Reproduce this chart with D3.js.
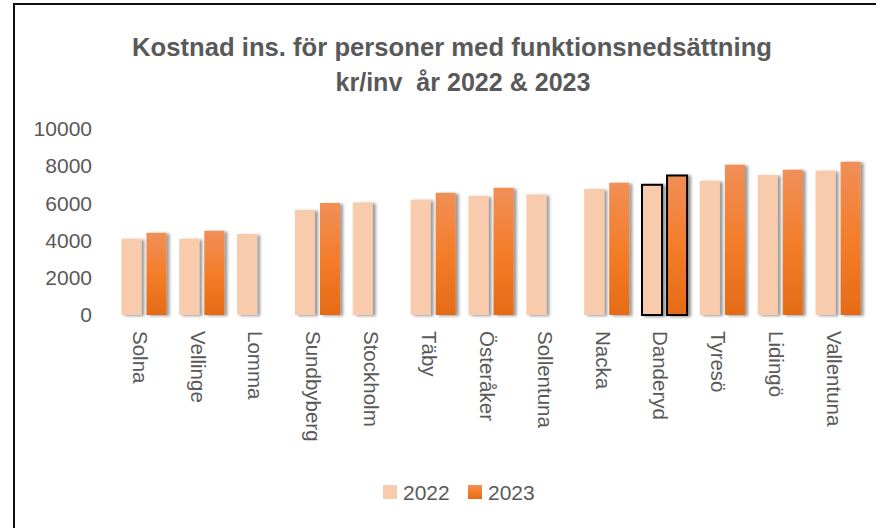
<!DOCTYPE html>
<html>
<head>
  <meta charset="utf-8">
  <style>
    html, body { margin: 0; background: #fff; overflow: hidden; }
    svg { display: block; }
    svg text { font-family: "Liberation Sans", Arial, sans-serif; fill: #595959; }
  </style>
</head>
<body>
  <svg id="chart" width="876" height="528"></svg>
  <script src="https://cdn.jsdelivr.net/npm/d3@7"></script>
  <script>
    // data
    var kommuner = ["Solna", "Vellinge", "Lomma", "Sundbyberg", "Stockholm", "Täby", "Österåker",
      "Sollentuna", "Nacka", "Danderyd", "Tyresö", "Lidingö", "Vallentuna"];
    var years = ["2022", "2023"];
    var values2022 = [4100, 4100, 4350, 5650, 6050, 6200, 6400, 6480, 6770, 7000, 7220, 7530, 7760];
    var values2023 = [4420, 4530, null, 6020, null, 6570, 6840, null, 7110, 7500, 8080, 7810, 8240];
    var yTicks = [0, 2000, 4000, 6000, 8000, 10000];
    var highlight = "Danderyd";

    var svg = d3.select("#chart");
    var defs = svg.append("defs");

    var grad = defs.append("linearGradient").attr("id", "g2023")
      .attr("x1", 0).attr("y1", 0).attr("x2", 0).attr("y2", 1);
    grad.append("stop").attr("offset", "0%").attr("stop-color", "#f08f58");
    grad.append("stop").attr("offset", "50%").attr("stop-color", "#f47d2a");
    grad.append("stop").attr("offset", "100%").attr("stop-color", "#e56b16");

    var shadow = defs.append("filter").attr("id", "shadow")
      .attr("x", "-20%").attr("y", "-5%").attr("width", "160%").attr("height", "110%");
    shadow.append("feDropShadow").attr("dx", 3).attr("dy", 1).attr("stdDeviation", 1.4)
      .attr("flood-color", "#000").attr("flood-opacity", 0.4);

    var lineShadow = defs.append("filter").attr("id", "lshadow")
      .attr("x", "0%").attr("y", "-200%").attr("width", "100%").attr("height", "500%");
    lineShadow.append("feDropShadow").attr("dx", 0).attr("dy", 1).attr("stdDeviation", 0.6)
      .attr("flood-color", "#000").attr("flood-opacity", 0.15);

    // outer frame: only top and left edges are inside the picture
    svg.append("path").attr("d", "M14,540 L14,4 L880,4")
      .attr("fill", "none").attr("stroke", "#111").attr("stroke-width", 2);

    // title
    svg.append("text").attr("x", 452).attr("y", 56).attr("text-anchor", "middle")
      .style("font-size", "26px").style("font-weight", "bold")
      .attr("textLength", 640).attr("lengthAdjust", "spacingAndGlyphs")
      .text("Kostnad ins. för personer med funktionsnedsättning");
    svg.append("text").attr("x", 463).attr("y", 91).attr("text-anchor", "middle")
      .style("font-size", "26px").style("font-weight", "bold").style("white-space", "pre")
      .attr("textLength", 255).attr("lengthAdjust", "spacingAndGlyphs")
      .text("kr/inv  år 2022 & 2023");

    var x0 = d3.scaleBand().domain(kommuner).range([115, 867])
      .paddingInner(0.22).paddingOuter(0.11);
    var x1 = d3.scaleBand().domain(years).range([0, x0.bandwidth()]).paddingInner(0.2);
    var y = d3.scaleLinear().domain([0, 10000]).range([315, 129]);

    // gridlines
    svg.append("g").selectAll("line").data(yTicks).enter().append("line")
      .attr("x1", 115).attr("x2", 867)
      .attr("y1", function (d) { return y(d); }).attr("y2", function (d) { return y(d); })
      .attr("stroke", "#d9d9d9").attr("stroke-width", 2)
      .attr("filter", "url(#lshadow)");

    // y axis labels
    var yAxis = svg.append("g").attr("transform", "translate(100,0)")
      .call(d3.axisLeft(y).tickValues(yTicks).tickSize(0).tickPadding(8).tickFormat(d3.format("d")));
    yAxis.select(".domain").remove();
    yAxis.selectAll("text").style("font-size", "21px").style("font-family", "Liberation Sans, Arial, sans-serif")
      .attr("fill", "#595959");

    var rows = kommuner.map(function (k, i) {
      return { name: k, vals: [{ year: "2022", v: values2022[i] }, { year: "2023", v: values2023[i] }] };
    });

    var groups = svg.append("g").selectAll("g").data(rows).enter().append("g")
      .attr("transform", function (d) { return "translate(" + x0(d.name) + ",0)"; });

    groups.selectAll("rect")
      .data(function (d) {
        return d.vals.filter(function (v) { return v.v != null; })
          .map(function (v) { return { name: d.name, year: v.year, v: v.v }; });
      })
      .enter().append("rect")
      .attr("x", function (d) { return x1(d.year); })
      .attr("y", function (d) { return y(d.v); })
      .attr("width", x1.bandwidth())
      .attr("height", function (d) { return y(0) - y(d.v); })
      .attr("fill", function (d) { return d.year === "2022" ? "#f8cbad" : "url(#g2023)"; })
      .attr("stroke", function (d) { return d.name === highlight ? "#000" : "none"; })
      .attr("stroke-width", 2)
      .attr("filter", "url(#shadow)");

    // category labels, rotated
    svg.append("g").selectAll("text").data(kommuner).enter().append("text")
      .attr("transform", function (d) {
        return "translate(" + (x0(d) + x0.bandwidth() / 2 - 4) + ",331) rotate(90)";
      })
      .attr("dy", "0.35em")
      .style("font-size", "20.5px")
      .text(function (d) { return d; });

    // legend
    var legendColors = ["#f8cbad", "url(#g2023)"];
    var legendX = [383, 468];
    var legend = svg.append("g").selectAll("g").data(years).enter().append("g")
      .attr("transform", function (d, i) { return "translate(" + legendX[i] + ",485)"; });
    legend.append("rect").attr("width", 14).attr("height", 14)
      .attr("fill", function (d, i) { return legendColors[i]; });
    legend.append("text").attr("x", 20).attr("y", 14.5).style("font-size", "21px")
      .text(function (d) { return d; });
  </script>
</body>
</html>
